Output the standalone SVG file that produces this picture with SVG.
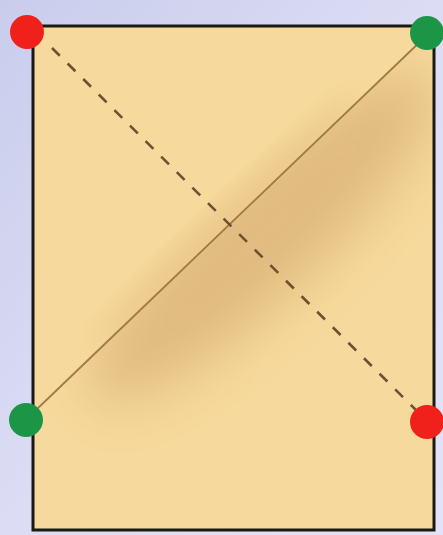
<svg xmlns="http://www.w3.org/2000/svg" width="443" height="535" viewBox="0 0 443 535">
  <style>
    .edge { stroke: #1a1a14; stroke-width: 3; fill: none; }
    .fold { stroke: #a07a45; stroke-width: 1.8; fill: none; }
    .dash { stroke: #6e5032; stroke-width: 2.6; stroke-dasharray: 11 11; fill: none; }
    .red { fill: #f0201a; }
    .green { fill: #1c9646; }
  </style>
  <defs>
    <linearGradient id="bg" x1="0" y1="0" x2="1" y2="1">
      <stop offset="0" stop-color="#c9cdec"/>
      <stop offset="0.5" stop-color="#dcdcf4"/>
      <stop offset="1" stop-color="#e4e2f6"/>
    </linearGradient>
    <clipPath id="lower">
      <polygon points="33,410 426,36 434,36 434,530 33,530"/>
    </clipPath>
    <clipPath id="upper">
      <polygon points="33,26 426,26 426,36 33,410"/>
    </clipPath>
    <filter id="blur" x="-50%" y="-50%" width="200%" height="200%">
      <feGaussianBlur stdDeviation="26"/>
    </filter>
    <filter id="blur2" x="-50%" y="-50%" width="200%" height="200%">
      <feGaussianBlur stdDeviation="12"/>
    </filter>
  </defs>
  <rect width="443" height="535" fill="url(#bg)"/>
  <g id="sheet">
    <rect x="33" y="26" width="401" height="504" fill="#f6d99c"/>
    <g clip-path="url(#lower)">
      <ellipse cx="262" cy="236" rx="230" ry="60" transform="rotate(-43.6 262 236)" fill="#c4935a" opacity="0.42" filter="url(#blur)"/>
    </g>
    <g clip-path="url(#upper)">
      <ellipse cx="228" cy="222" rx="180" ry="14" transform="rotate(-43.6 228 222)" fill="#d3a566" opacity="0.35" filter="url(#blur2)"/>
    </g>
    <rect x="33" y="26" width="401" height="504" class="edge"/>
  </g>
  <g id="connectors">
    <line x1="36" y1="410" x2="424" y2="38" class="fold"/>
    <line x1="52" y1="48" x2="418" y2="412" class="dash"/>
  </g>
  <g id="corner-top-left"><circle cx="27" cy="32" r="17" class="red"/></g>
  <g id="corner-top-right"><circle cx="427" cy="33" r="17" class="green"/></g>
  <g id="corner-bottom-left"><circle cx="26" cy="420" r="17" class="green"/></g>
  <g id="corner-bottom-right"><circle cx="427" cy="422" r="17" class="red"/></g>
</svg>
